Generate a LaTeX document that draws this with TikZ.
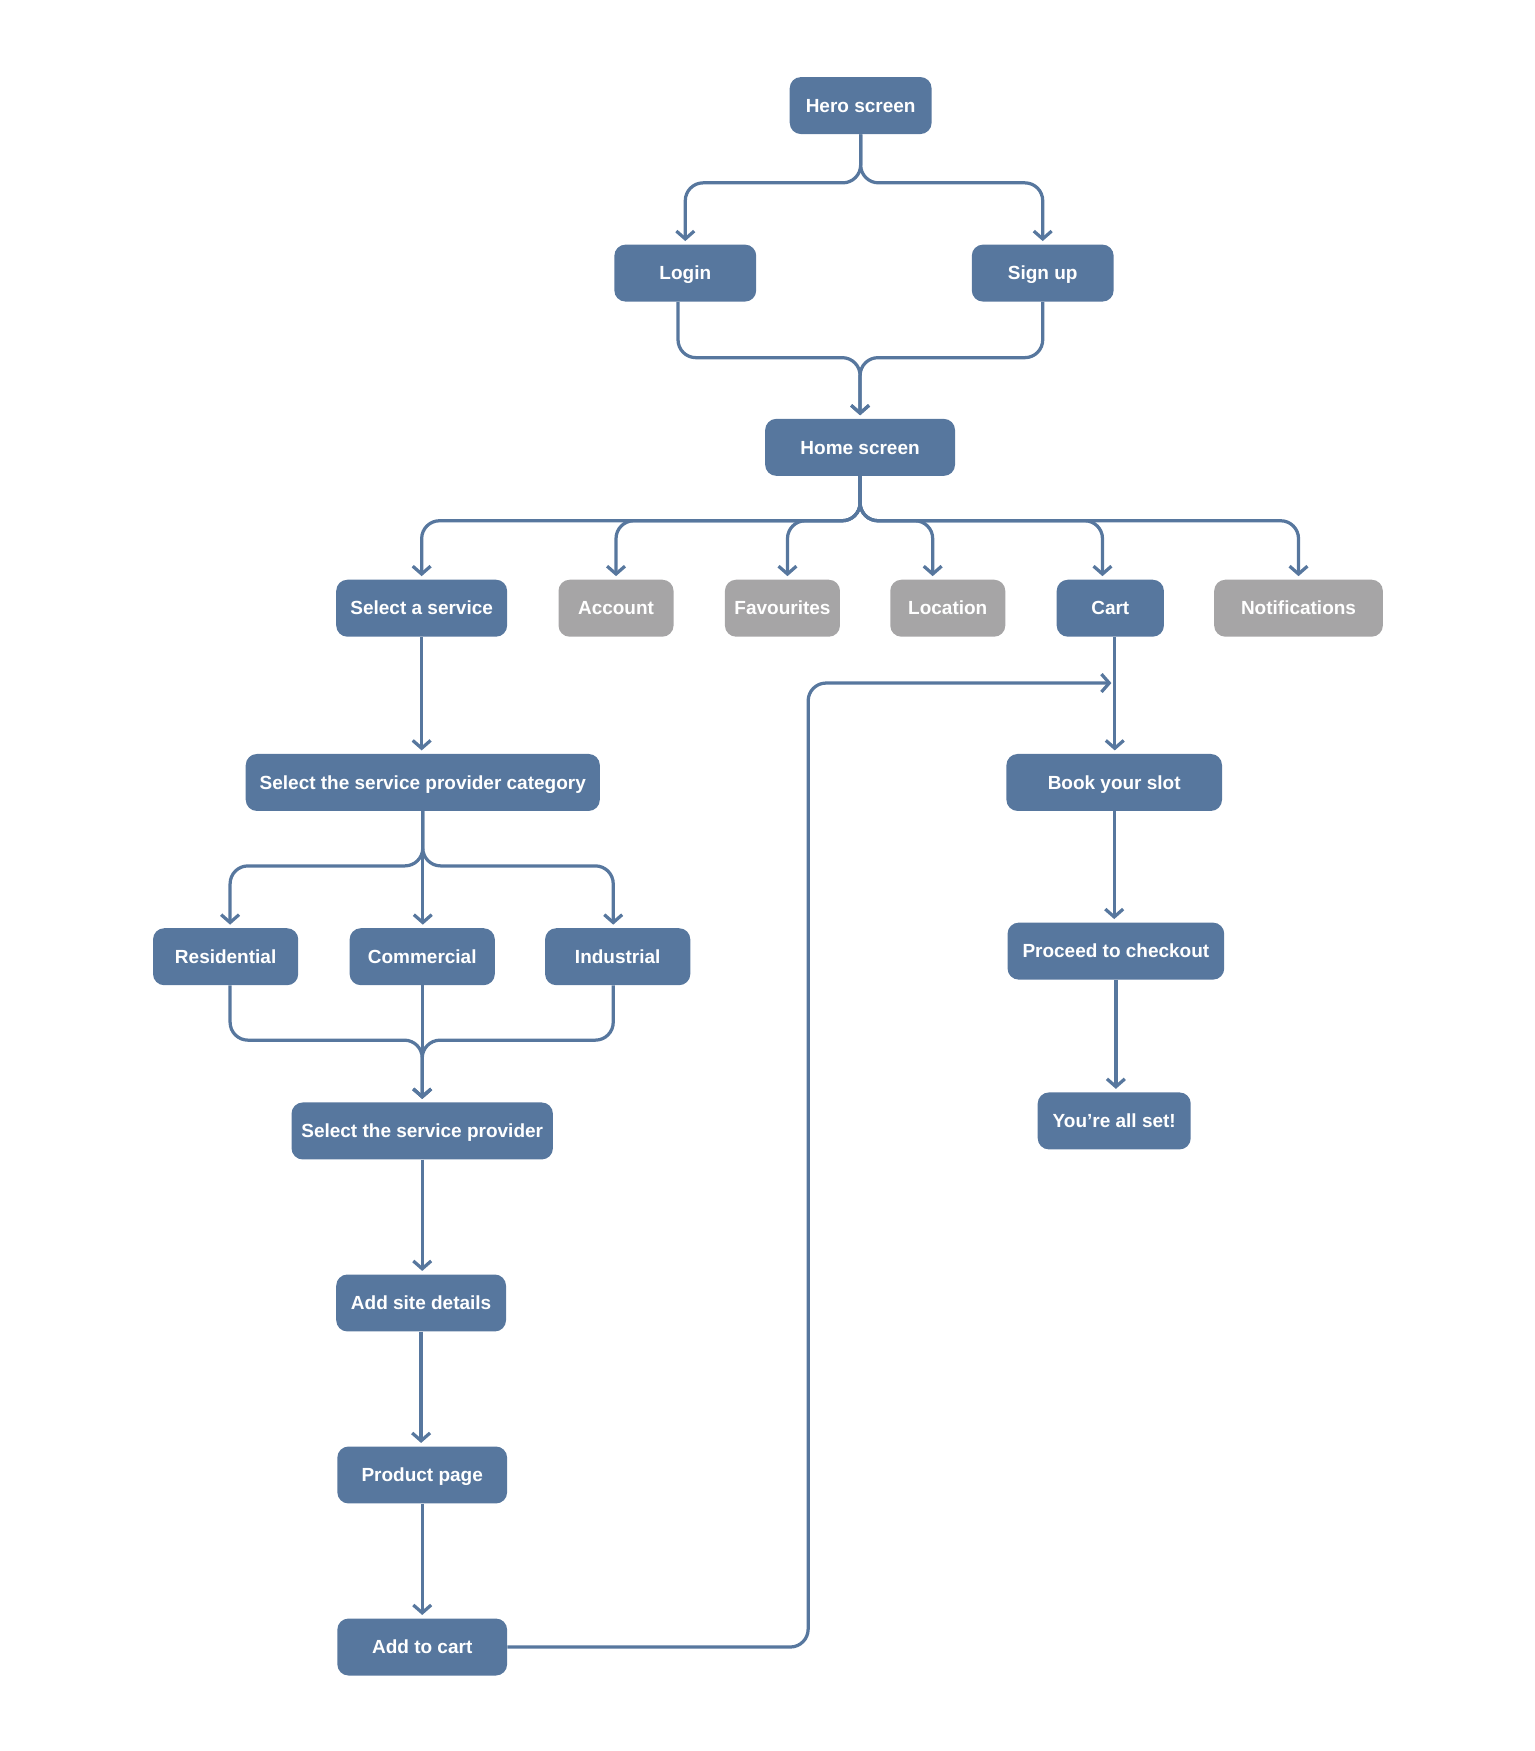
\documentclass[tikz,border=0pt]{standalone}
\usepackage{fontspec}
\setmainfont{Liberation Sans}
\usepackage{xcolor}
\usetikzlibrary{arrows.meta}
\definecolor{flowblue}{RGB}{87,119,158}
\definecolor{flowgrey}{RGB}{166,165,166}

\begin{document}
\begin{tikzpicture}[x=1pt,y=-1pt,
	box/.style={rectangle,rounded corners=10pt,fill=flowblue,text=white,font=\fontsize{17}{20}\selectfont\bfseries,minimum height=51pt,inner xsep=0pt,text height=15pt,text depth=3pt},
	offbox/.style={box,fill=flowgrey},
	flow/.style={draw=flowblue,line width=2.9pt,rounded corners=16pt,-{Straight Barb[length=7pt,width=16pt]},shorten >=3pt}]
	\useasboundingbox (0,0) rectangle (1374.2,1567.6);
	% top
	\node[box,minimum width=127pt] (hero) at (770.5,94.5) {Hero screen};
	\node[box,minimum width=127pt] (login) at (613.5,244.5) {Login};
	\node[box,minimum width=127pt] (signup) at (933.5,244.5) {Sign up};
	\node[box,minimum width=170pt] (home) at (770,400.5) {Home screen};
	% menu row
	\node[box,minimum width=153pt] (service) at (377.5,544.5) {Select a service};
	\node[offbox,minimum width=103pt] (account) at (551.5,544.5) {Account};
	\node[offbox,minimum width=103pt] (favourites) at (700.5,544.5) {Favourites};
	\node[offbox,minimum width=103pt] (location) at (848.5,544.5) {Location};
	\node[box,minimum width=96pt] (cart) at (994,544.5) {Cart};
	\node[offbox,minimum width=151pt] (notifications) at (1162.5,544.5) {Notifications};
	% service branch
	\node[box,minimum width=317pt] (category) at (378.5,700.5) {Select the service provider category};
	\node[box,minimum width=130pt] (residential) at (202,856.5) {Residential};
	\node[box,minimum width=130pt] (commercial) at (378,856.5) {Commercial};
	\node[box,minimum width=130pt] (industrial) at (553,856.5) {Industrial};
	\node[box,minimum width=234pt] (provider) at (378,1012.5) {Select the service provider};
	\node[box,minimum width=152pt] (site) at (377,1166.5) {Add site details};
	\node[box,minimum width=152pt] (product) at (378,1320.5) {Product page};
	\node[box,minimum width=152pt] (addcart) at (378,1474.5) {Add to cart};
	% cart branch
	\node[box,minimum width=193pt] (book) at (997.5,700.5) {Book your slot};
	\node[box,minimum width=194pt] (checkout) at (999,851.5) {Proceed to checkout};
	\node[box,minimum width=137pt] (allset) at (997.5,1003.5) {You’re all set!};
	\coordinate (loopcorner) at (723.5,611.5);
	\coordinate (cartjoin) at (998,611.5);
	% connectors
	\draw[flow] (hero.south) -- ++(0,43.5) -| (login.north);
	\draw[flow] (hero.south) -- ++(0,43.5) -| (signup.north);
	\draw[flow] ([xshift=-6.5pt]login.south) -- ++(0,50) -| (home.north);
	\draw[flow] (signup.south) -- ++(0,50) -| (home.north);
	\draw[flow] (home.south) -- ++(0,40) -| (service.north);
	\draw[flow] (home.south) -- ++(0,40) -| (account.north);
	\draw[flow] (home.south) -- ++(0,40) -| ([xshift=4.5pt]favourites.north);
	\draw[flow] (home.south) -- ++(0,40) -| ([xshift=-13.5pt]location.north);
	\draw[flow] (home.south) -- ++(0,40) -| ([xshift=-7pt]cart.north);
	\draw[flow] (home.south) -- ++(0,40) -| (notifications.north);
	\draw[flow] (service.south) -- (service.south |- category.north);
	\draw[flow] (category.south) -- ++(0,49) -| ([xshift=4pt]residential.north);
	\draw[flow] (category.south) -- (category.south |- commercial.north);
	\draw[flow] (category.south) -- ++(0,49) -| ([xshift=-4pt]industrial.north);
	\draw[flow] ([xshift=4pt]residential.south) -- ++(0,49) -| (provider.north);
	\draw[flow] (commercial.south) -- (provider.north);
	\draw[flow] ([xshift=-4pt]industrial.south) -- ++(0,49) -| (provider.north);
	\draw[flow] (provider.south) -- (provider.south |- site.north);
	\draw[flow] (site.south) -- (site.south |- product.north);
	\draw[flow] (product.south) -- (addcart.north);
	\draw[flow] ([xshift=4pt]cart.south) -- ([xshift=4pt]cart.south |- book.north);
	\draw[flow] (addcart.east) -| (loopcorner) -- (cartjoin);
	\draw[flow] (book.south) -- (book.south |- checkout.north);
	\draw[flow] (checkout.south) -- (checkout.south |- allset.north);
\end{tikzpicture}
\end{document}
